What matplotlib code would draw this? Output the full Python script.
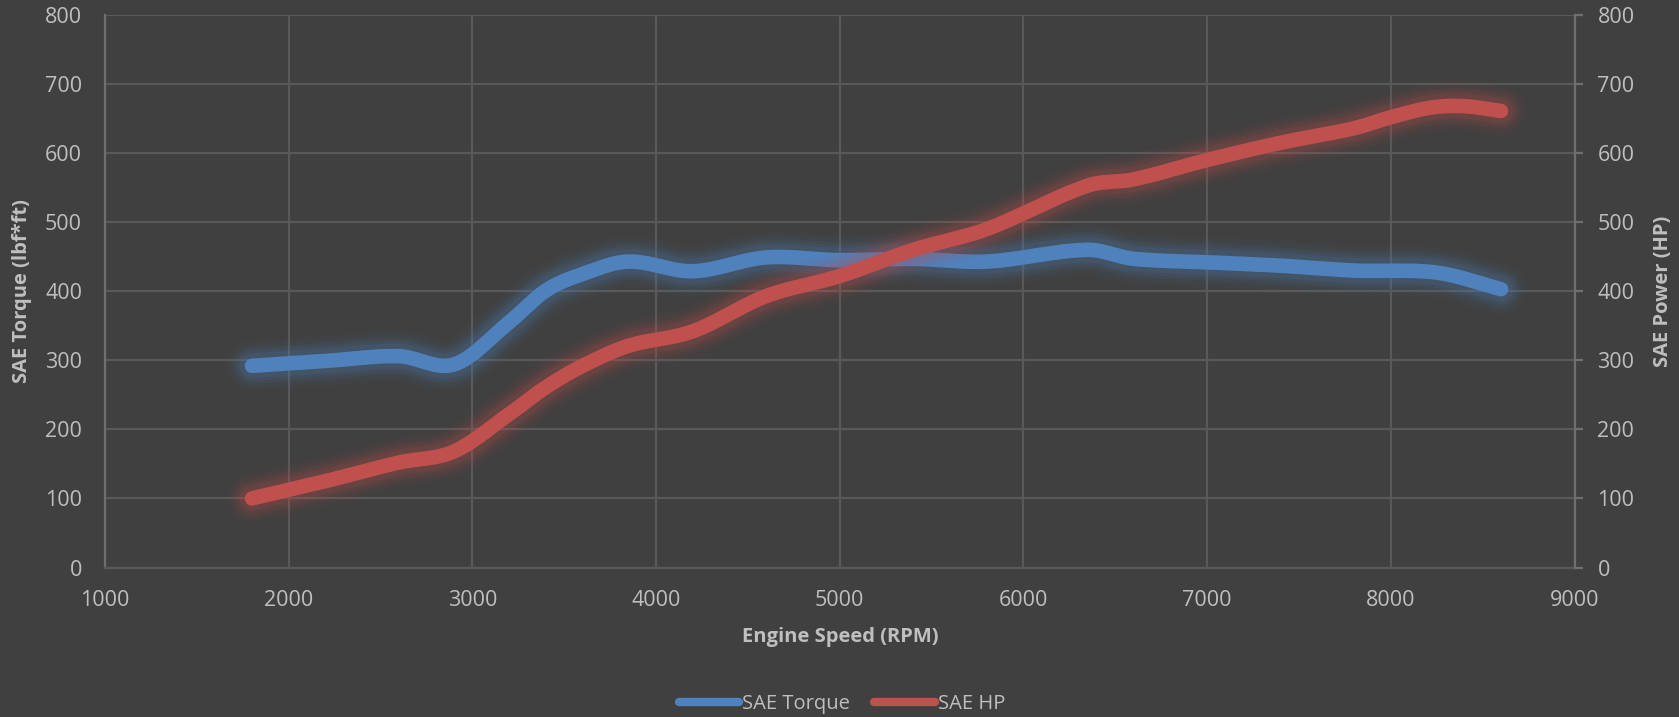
import numpy as np
import matplotlib
matplotlib.use("Agg")
import matplotlib.pyplot as plt
from matplotlib.lines import Line2D

# ---- data ----
rpm = [1800, 2200, 2600, 2900, 3200, 3400, 3600, 3850, 4200, 4600, 5000,
       5400, 5800, 6350, 6600, 7000, 7400, 7800, 8250, 8600]
torque = [292, 299, 306, 294, 355, 401, 425, 443, 429, 449, 445,
          447, 443, 460, 447, 442, 437, 430, 427, 403]
hp_rpm = [1800, 2200, 2600, 2900, 3200, 3400, 3600, 3850, 4200, 4600, 5000,
          5400, 5800, 6350, 6600, 7000, 7400, 7800, 8000, 8220, 8400, 8600]
hp = [100, 125, 152, 168, 222, 261, 292, 321, 342, 393, 422,
      460, 490, 553, 562, 590, 615, 636, 652, 666, 668, 661]

x_ticks = [1000, 2000, 3000, 4000, 5000, 6000, 7000, 8000, 9000]
y_ticks = [0, 100, 200, 300, 400, 500, 600, 700, 800]

BG = "#404040"
TXT = "#bfbfbf"
GRID = "#595959"
SPINE = "#6f6f6f"
BLUE = "#4f81bd"
RED = "#c0504d"

plt.rcParams['font.family'] = ['Open Sans', 'DejaVu Sans']


def smooth(xs, ys, n=40):
    """Cubic Hermite curve through the data points (rendering only)."""
    x = np.asarray(xs, float)
    y = np.asarray(ys, float)
    m = np.empty_like(y)
    m[1:-1] = (y[2:] - y[:-2]) / (x[2:] - x[:-2])
    m[0] = (y[1] - y[0]) / (x[1] - x[0])
    m[-1] = (y[-1] - y[-2]) / (x[-1] - x[-2])
    ox, oy = [], []
    for i in range(len(x) - 1):
        h = x[i + 1] - x[i]
        t = np.linspace(0, 1, n, endpoint=False)
        h00 = 2 * t**3 - 3 * t**2 + 1
        h10 = t**3 - 2 * t**2 + t
        h01 = -2 * t**3 + 3 * t**2
        h11 = t**3 - t**2
        ox.append(x[i] + t * h)
        oy.append(h00 * y[i] + h10 * h * m[i] + h01 * y[i + 1] + h11 * h * m[i + 1])
    ox.append([x[-1]])
    oy.append([y[-1]])
    return np.concatenate(ox), np.concatenate(oy)


W, H = 1679, 717
fig = plt.figure(figsize=(W / 100, H / 100), dpi=100)
fig.patch.set_facecolor(BG)
ax = fig.add_axes([105 / W, 1 - 567.5 / H, (1574.5 - 105) / W, (567.5 - 15) / H])
ax.set_facecolor(BG)
ax2 = ax.twinx()

ax.set_xlim(1000, 9000)
ax.set_ylim(0, 800)
ax2.set_ylim(0, 800)
ax.set_xticks(x_ticks)
ax.set_yticks(y_ticks)
ax2.set_yticks(y_ticks)

ax.grid(True, color=GRID, linewidth=1.6)
ax.set_axisbelow(True)

for a in (ax, ax2):
    for s in a.spines.values():
        s.set_visible(False)
ax.spines['left'].set_visible(True)
ax.spines['left'].set_color(SPINE)
ax.spines['left'].set_linewidth(1.6)
ax.spines['bottom'].set_visible(True)
ax.spines['bottom'].set_color(GRID)
ax.spines['bottom'].set_linewidth(1.6)
ax2.spines['right'].set_visible(True)
ax2.spines['right'].set_color(SPINE)
ax2.spines['right'].set_linewidth(1.6)

ax.tick_params(axis='both', length=0, labelcolor=TXT, labelsize=15.5)
ax.tick_params(axis='y', pad=16.5)
ax.tick_params(axis='x', pad=16)
ax2.tick_params(axis='y', length=6, width=1.6, color=SPINE, labelcolor=TXT,
                labelsize=15.5, pad=10.5)


def glow_line(a, xs, ys, color):
    sx, sy = smooth(xs, ys)
    for w, al in [(36, 0.035), (31, 0.05), (26, 0.07), (22, 0.09), (18, 0.12)]:
        a.plot(sx, sy, color=color, lw=w, alpha=al, solid_capstyle='round',
               solid_joinstyle='round')
    a.plot(sx, sy, color=color, lw=10.5, solid_capstyle='round',
           solid_joinstyle='round')


glow_line(ax, rpm, torque, BLUE)
glow_line(ax2, hp_rpm, hp, RED)

ax.set_xlabel("Engine Speed (RPM)", color=TXT, fontsize=14.5, fontweight='bold',
              labelpad=12)
ax.set_ylabel("SAE Torque (lbf*ft)", color=TXT, fontsize=14.5, fontweight='bold',
              labelpad=9)
ax2.set_ylabel("SAE Power (HP)", color=TXT, fontsize=14.5, fontweight='bold',
               labelpad=13, rotation=90)

handles = [Line2D([], [], color=BLUE, lw=6, solid_capstyle='round'),
           Line2D([], [], color=RED, lw=6, solid_capstyle='round')]
leg = fig.legend(handles, ["SAE Torque", "SAE HP"], loc='center',
                 bbox_to_anchor=(842 / W, 1 - 704 / H), ncol=2, frameon=False,
                 handlelength=3.0, handletextpad=0.15, columnspacing=1.2,
                 fontsize=14.5, borderpad=0)
for t in leg.get_texts():
    t.set_color(TXT)

fig.savefig("out.png", dpi=100, facecolor=BG)
